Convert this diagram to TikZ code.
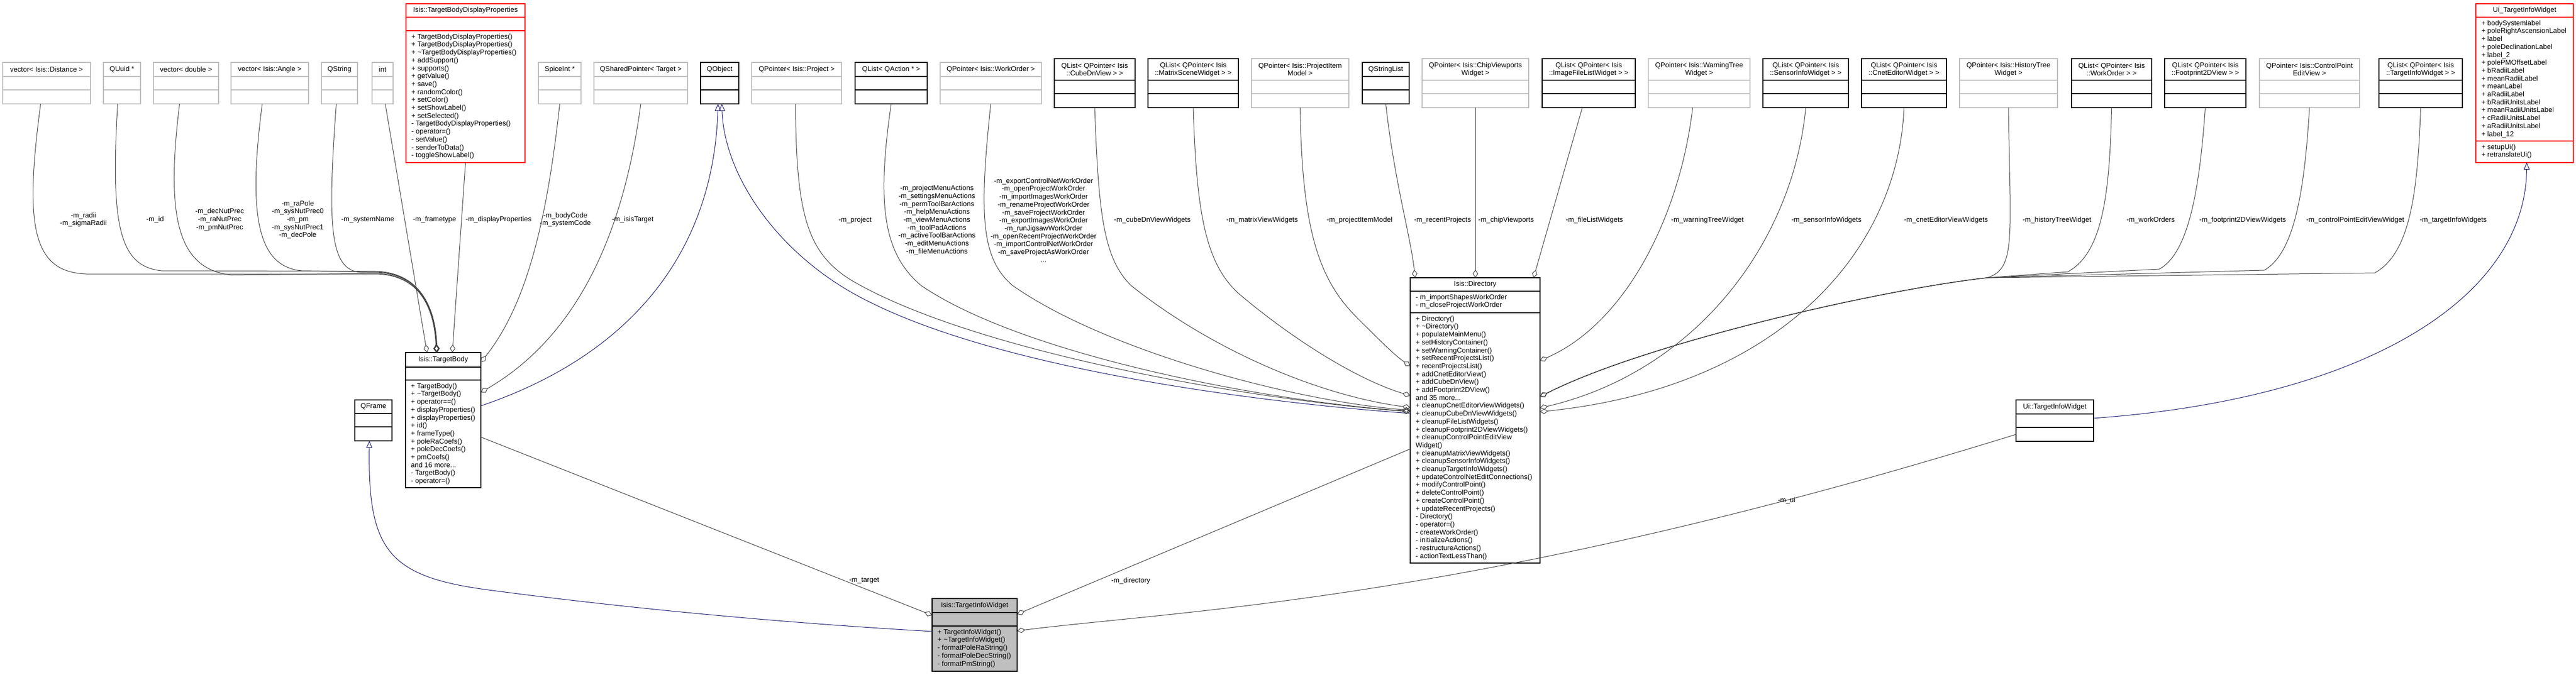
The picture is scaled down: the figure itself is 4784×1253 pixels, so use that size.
\documentclass[tikz,border=0pt]{standalone}
\usepackage{fontspec}
\setmainfont{Liberation Sans}
\usetikzlibrary{arrows.meta,calc}
\definecolor{gborder}{HTML}{BFBFBF}
\definecolor{edgec}{HTML}{404040}
\definecolor{inhc}{HTML}{191970}
\definecolor{mainfill}{HTML}{BFBFBF}
\tikzset{
 txt/.style={font=\fontsize{13}{14.7}\selectfont, inner sep=0pt, align=center},
 lst/.style={font=\fontsize{13}{14.7}\selectfont, inner sep=0pt, align=left, anchor=north west},
 elabel/.style={font=\fontsize{13}{14.7}\selectfont, inner sep=0pt, align=center, text=black},
 graybox/.style={draw=gborder, line width=1.2pt},
 blackbox/.style={draw=black, line width=1.2pt},
 redbox/.style={draw=red, line width=1.2pt},
 mainbox/.style={draw=black, fill=mainfill, line width=1.2pt},
 uses/.style={draw=edgec, line width=1pt, -{Diamond[open,length=15pt,width=10pt]}},
 inherit/.style={draw=inhc, line width=1pt, {Triangle[open,length=13pt,width=11pt]}-},
}
\newcommand\umlbox[9]{%
  \node[#2, inner sep=0pt, outer sep=0pt, minimum width={#5-#3}, minimum height={#6-#4}, anchor=north west] (#1) at (#3,#4) {};
  \draw[#2] (#3,#7) -- (#5,#7) (#3,#8) -- (#5,#8);
  \node[txt] (#1-h) at ({(#3+#5)/2},{(#4+#7)/2}) {#9};
}
\newcommand\lstat[4]{\node[lst] (#1) at (#2,#3) {\rule{0pt}{12pt}#4};}
\newcommand\elab[4]{\node[elabel] (#1) at (#2,#3) {#4};}
\begin{document}
\begin{tikzpicture}[x=1pt,y=-1pt]
\useasboundingbox (0,0) rectangle (4784,1253);
\fill[white] (0,0) rectangle (4784,1253);

% ---------- top row ----------
\umlbox{distance}{graybox}{5}{116}{168}{193}{142}{167}{vector< Isis::Distance >}
\umlbox{quuid}{graybox}{192}{116}{261}{193}{142}{167}{QUuid *}
\umlbox{vdouble}{graybox}{285}{116}{406}{193}{142}{167}{vector< double >}
\umlbox{vangle}{graybox}{429}{116}{573}{193}{142}{167}{vector< Isis::Angle >}
\umlbox{qstring}{graybox}{597}{116}{664}{193}{142}{167}{QString}
\umlbox{int}{graybox}{691}{116}{730}{193}{142}{167}{int}
\umlbox{tbdp}{redbox}{754}{7}{975}{302}{32}{57}{Isis::TargetBodyDisplayProperties}
\lstat{tbdpm}{764}{60}{+ TargetBodyDisplayProperties()\\+ TargetBodyDisplayProperties()\\+ \textasciitilde{}TargetBodyDisplayProperties()\\+ addSupport()\\+ supports()\\+ getValue()\\+ save()\\+ randomColor()\\+ setColor()\\+ setShowLabel()\\+ setSelected()\\- TargetBodyDisplayProperties()\\- operator=()\\- setValue()\\- senderToData()\\- toggleShowLabel()}
\umlbox{spiceint}{graybox}{1000}{116}{1079}{193}{142}{167}{SpiceInt *}
\umlbox{qshared}{graybox}{1103}{116}{1277}{193}{142}{167}{QSharedPointer< Target >}
\umlbox{qobject}{blackbox}{1301}{116}{1372}{193}{142}{167}{QObject}
\umlbox{qproject}{graybox}{1396}{116}{1563}{193}{142}{167}{QPointer< Isis::Project >}
\umlbox{qaction}{blackbox}{1588}{116}{1722}{193}{142}{167}{QList< QAction * >}
\umlbox{qworkorder}{graybox}{1746}{116}{1934}{193}{142}{167}{QPointer< Isis::WorkOrder >}
\umlbox{cubedn}{blackbox}{1958}{109}{2108}{200}{149}{174}{QList< QPointer< Isis\\::CubeDnView > >}
\umlbox{matrix}{blackbox}{2132}{109}{2300}{200}{149}{174}{QList< QPointer< Isis\\::MatrixSceneWidget > >}
\umlbox{projitem}{graybox}{2324}{109}{2505}{200}{149}{174}{QPointer< Isis::ProjectItem\\Model >}
\umlbox{qstringlist}{blackbox}{2530}{116}{2617}{193}{142}{167}{QStringList}
\umlbox{chipview}{graybox}{2641}{109}{2839}{200}{149}{174}{QPointer< Isis::ChipViewports\\Widget >}
\umlbox{imagefile}{blackbox}{2864}{109}{3037}{200}{149}{174}{QList< QPointer< Isis\\::ImageFileListWidget > >}
\umlbox{warning}{graybox}{3061}{109}{3250}{200}{149}{174}{QPointer< Isis::WarningTree\\Widget >}
\umlbox{sensor}{blackbox}{3274}{109}{3433}{200}{149}{174}{QList< QPointer< Isis\\::SensorInfoWidget > >}
\umlbox{cnet}{blackbox}{3457}{109}{3615}{200}{149}{174}{QList< QPointer< Isis\\::CnetEditorWidget > >}
\umlbox{history}{graybox}{3639}{109}{3821}{200}{149}{174}{QPointer< Isis::HistoryTree\\Widget >}
\umlbox{workorders}{blackbox}{3847}{109}{3996}{200}{149}{174}{QList< QPointer< Isis\\::WorkOrder > >}
\umlbox{footprint}{blackbox}{4020}{109}{4171}{200}{149}{174}{QList< QPointer< Isis\\::Footprint2DView > >}
\umlbox{cpedit}{graybox}{4196}{109}{4382}{200}{149}{174}{QPointer< Isis::ControlPoint\\EditView >}
\umlbox{tiwlist}{blackbox}{4418}{109}{4573}{200}{149}{174}{QList< QPointer< Isis\\::TargetInfoWidget > >}
\umlbox{uitiw}{redbox}{4598}{7}{4779}{302}{32}{262}{Ui\_TargetInfoWidget}
\lstat{uitiwa}{4608}{35}{+ bodySystemlabel\\+ poleRightAscensionLabel\\+ label\\+ poleDeclinationLabel\\+ label\_2\\+ polePMOffsetLabel\\+ bRadiiLabel\\+ meanRadiiLabel\\+ meanLabel\\+ aRadiiLabel\\+ bRadiiUnitsLabel\\+ meanRadiiUnitsLabel\\+ cRadiiUnitsLabel\\+ aRadiiUnitsLabel\\+ label\_12}
\lstat{uitiwm}{4608}{265}{+ setupUi()\\+ retranslateUi()}

% ---------- middle row ----------
\umlbox{targetbody}{blackbox}{753}{655}{893}{906}{682}{706}{Isis::TargetBody}
\lstat{tbm}{763}{709}{+ TargetBody()\\+ \textasciitilde{}TargetBody()\\+ operator==()\\+ displayProperties()\\+ displayProperties()\\+ id()\\+ frameType()\\+ poleRaCoefs()\\+ poleDecCoefs()\\+ pmCoefs()\\and 16 more...\\- TargetBody()\\- operator=()}
\umlbox{qframe}{blackbox}{659}{743}{728}{819}{768}{793}{QFrame}
\umlbox{directory}{blackbox}{2619}{516}{2860}{1046}{541}{581}{Isis::Directory}
\lstat{dira}{2629}{544}{- m\_importShapesWorkOrder\\- m\_closeProjectWorkOrder}
\lstat{dirm}{2629}{584}{+ Directory()\\+ \textasciitilde{}Directory()\\+ populateMainMenu()\\+ setHistoryContainer()\\+ setWarningContainer()\\+ setRecentProjectsList()\\+ recentProjectsList()\\+ addCnetEditorView()\\+ addCubeDnView()\\+ addFootprint2DView()\\and 35 more...\\+ cleanupCnetEditorViewWidgets()\\+ cleanupCubeDnViewWidgets()\\+ cleanupFileListWidgets()\\+ cleanupFootprint2DViewWidgets()\\+ cleanupControlPointEditView\\Widget()\\+ cleanupMatrixViewWidgets()\\+ cleanupSensorInfoWidgets()\\+ cleanupTargetInfoWidgets()\\+ updateControlNetEditConnections()\\+ modifyControlPoint()\\+ deleteControlPoint()\\+ createControlPoint()\\+ updateRecentProjects()\\- Directory()\\- operator=()\\- createWorkOrder()\\- initializeActions()\\- restructureActions()\\- actionTextLessThan()}
\umlbox{uitiw2}{blackbox}{3744}{743}{3888}{820}{769}{794}{Ui::TargetInfoWidget}

% ---------- bottom ----------
\umlbox{tiw}{mainbox}{1731}{1112}{1889}{1247}{1138}{1163}{Isis::TargetInfoWidget}
\lstat{tiwm}{1741}{1166}{+ TargetInfoWidget()\\+ \textasciitilde{}TargetInfoWidget()\\- formatPoleRaString()\\- formatPoleDecString()\\- formatPmString()}

% ---------- edges to TargetBody ----------
\draw[uses] ($(distance.south)+(-11,0)$) .. controls (45,420) and (60,505) .. (160,509) -- (700,509) .. controls (785,512) and (808,580) .. ($(targetbody.north west)+(58,0)$);
\draw[uses] ($(quuid.south)+(-8,0)$) .. controls (205,420) and (222,495) .. (300,503) -- (700,504) .. controls (786,508) and (809,580) .. ($(targetbody.north west)+(58,0)$);
\draw[uses] ($(vdouble.south)+(-12,0)$) .. controls (308,400) and (328,500) .. (430,511) -- (700,508) .. controls (784,511) and (807,580) .. ($(targetbody.north west)+(57,0)$);
\draw[uses] ($(vangle.south)+(-14,0)$) .. controls (460,400) and (478,495) .. (560,503) -- (700,505) .. controls (786,509) and (809,580) .. ($(targetbody.north west)+(59,0)$);
\draw[uses] ($(qstring.south)+(-6,0)$) .. controls (608,420) and (612,502) .. (670,506) -- (700,506) .. controls (785,510) and (808,580) .. ($(targetbody.north west)+(58,0)$);
\draw[uses] ($(int.south)+(5,0)$) -- ($(targetbody.north west)+(40,0)$);
\draw[uses] (tbdp.south) -- ($(targetbody.north west)+(87,0)$);
\draw[uses] (spiceint.south) .. controls (1015,420) and (975,570) .. ($(targetbody.north east)+(0,18)$);
\draw[uses] (qshared.south) .. controls (1160,420) and (1080,620) .. ($(targetbody.north east)+(0,74)$);
\draw[inherit] ($(qobject.south)+(-3,0)$) .. controls (1325,470) and (1170,660) .. ($(targetbody.north east)+(0,99)$);

\elab{lradii}{155}{408}{-m\_radii\\-m\_sigmaRadii}
\elab{lid}{288}{408}{-m\_id}
\elab{lnut}{408}{408}{-m\_decNutPrec\\-m\_raNutPrec\\-m\_pmNutPrec}
\elab{lpole}{553}{408}{-m\_raPole\\-m\_sysNutPrec0\\-m\_pm\\-m\_sysNutPrec1\\-m\_decPole}
\elab{lsys}{683}{408}{-m\_systemName}
\elab{lframe}{807}{408}{-m\_frametype}
\elab{ldisp}{926}{408}{-m\_displayProperties}
\elab{lcode}{1050}{408}{-m\_bodyCode\\-m\_systemCode}
\elab{lisis}{1175}{408}{-m\_isisTarget}

% ---------- edges to Directory (left / top) ----------
\draw[inherit] ($(qobject.south)+(4,0)$) .. controls (1345,330) and (1450,480) .. (1613,560) .. controls (1850,680) and (2300,745) .. ($(directory.north west)+(0,252)$);
\draw[uses] ($(qproject.south)+(-2,0)$) .. controls (1478,400) and (1500,470) .. (1580,520) .. controls (1800,650) and (2300,740) .. ($(directory.north west)+(0,249)$);
\draw[uses] (qaction.south) .. controls (1628,380) and (1640,470) .. (1710,530) .. controls (1900,660) and (2350,745) .. ($(directory.north west)+(0,248)$);
\draw[uses] (qworkorder.south) .. controls (1818,400) and (1822,480) .. (1880,530) .. controls (2050,650) and (2400,745) .. ($(directory.north west)+(0,246)$);
\draw[uses] (cubedn.south) .. controls (2040,400) and (2050,480) .. (2100,530) .. controls (2250,650) and (2450,735) .. ($(directory.north west)+(0,241)$);
\draw[uses] (matrix.south) .. controls (2222,400) and (2240,490) .. (2300,545) .. controls (2400,630) and (2520,705) .. ($(directory.north west)+(0,219)$);
\draw[uses] (projitem.south) .. controls (2418,430) and (2450,520) .. (2520,590) .. controls (2560,630) and (2590,660) .. ($(directory.north west)+(0,164)$);
\draw[uses] (qstringlist.south) .. controls (2590,340) and (2620,440) .. ($(directory.north west)+(9,0)$);
\draw[uses] (chipview.south) -- ($(directory.north west)+(121,0)$);
\draw[uses] ($(imagefile.south)+(-12,0)$) -- ($(directory.north west)+(229,0)$);

\elab{lproj}{1588}{409}{-m\_project}
\elab{lact}{1740}{409}{-m\_projectMenuActions\\-m\_settingsMenuActions\\-m\_permToolBarActions\\-m\_helpMenuActions\\-m\_viewMenuActions\\-m\_toolPadActions\\-m\_activeToolBarActions\\-m\_editMenuActions\\-m\_fileMenuActions}
\elab{lwo}{1938}{409}{-m\_exportControlNetWorkOrder\\-m\_openProjectWorkOrder\\-m\_importImagesWorkOrder\\-m\_renameProjectWorkOrder\\-m\_saveProjectWorkOrder\\-m\_exportImagesWorkOrder\\-m\_runJigsawWorkOrder\\-m\_openRecentProjectWorkOrder\\-m\_importControlNetWorkOrder\\-m\_saveProjectAsWorkOrder\\...}
\elab{lcube}{2140}{409}{-m\_cubeDnViewWidgets}
\elab{lmat}{2344}{409}{-m\_matrixViewWidgets}
\elab{lpim}{2525}{409}{-m\_projectItemModel}
\elab{lrec}{2679}{409}{-m\_recentProjects}
\elab{lchip}{2797}{409}{-m\_chipViewports}
\elab{lfile}{2961}{409}{-m\_fileListWidgets}

% ---------- edges to Directory (right) ----------
\draw[uses] ($(warning.south)+(-12,0)$) .. controls (3120,400) and (3020,600) .. ($(directory.north east)+(0,154)$);
\draw[uses] (sensor.south) .. controls (3330,450) and (3150,690) .. ($(directory.north east)+(0,242)$);
\draw[uses] (cnet.south) .. controls (3525,470) and (3300,720) .. ($(directory.north east)+(0,249)$);
\draw[uses] (history.south) .. controls (3733,440) and (3745,500) .. (3690,516) .. controls (3480,540) and (3050,640) .. ($(directory.north east)+(0,221)$);
\draw[uses] (workorders.south) .. controls (3918,360) and (3905,470) .. (3840,505) -- (3690,516) .. controls (3480,540) and (3050,640) .. ($(directory.north east)+(0,221)$);
\draw[uses] (footprint.south) .. controls (4085,350) and (4065,470) .. (4010,500) -- (3690,516) .. controls (3480,540) and (3050,640) .. ($(directory.north east)+(0,221)$);
\draw[uses] (cpedit.south) .. controls (4280,350) and (4262,470) .. (4205,502) -- (3690,516) .. controls (3480,540) and (3050,640) .. ($(directory.north east)+(0,221)$);
\draw[uses] (tiwlist.south) .. controls (4490,350) and (4478,470) .. (4410,507) -- (3690,516) .. controls (3480,540) and (3050,640) .. ($(directory.north east)+(0,221)$);

\elab{lwarn}{3171}{409}{-m\_warningTreeWidget}
\elab{lsens}{3392}{409}{-m\_sensorInfoWidgets}
\elab{lcnet}{3614}{409}{-m\_cnetEditorViewWidgets}
\elab{lhist}{3820}{409}{-m\_historyTreeWidget}
\elab{lwos}{3994}{409}{-m\_workOrders}
\elab{lfoot}{4165}{409}{-m\_footprint2DViewWidgets}
\elab{lcpe}{4374}{409}{-m\_controlPointEditViewWidget}
\elab{ltiw}{4556}{409}{-m\_targetInfoWidgets}

% ---------- Ui inheritance ----------
\draw[inherit] ($(uitiw.south)+(4,0)$) .. controls (4690,550) and (4400,740) .. ($(uitiw2.north east)+(0,34)$);

% ---------- edges to TargetInfoWidget ----------
\draw[inherit] ($(qframe.south)+(-7.5,0)$) .. controls (683,1020) and (720,1070) .. (900,1095) .. controls (1200,1135) and (1500,1160) .. ($(tiw.north west)+(0,61)$);
\draw[uses] ($(targetbody.north east)+(0,157)$) -- ($(tiw.north west)+(0,31)$);
\draw[uses] ($(directory.north west)+(0,318)$) -- ($(tiw.north east)+(0,29)$);
\draw[uses] ($(uitiw2.north west)+(0,64)$) .. controls (2744,1117) and (2198,1133) .. ($(tiw.north east)+(0,60)$);

\elab{ltarget}{1605}{1079}{-m\_target}
\elab{ldir}{2100}{1079}{-m\_directory}
\elab{lui}{3318}{930}{-m\_ui}
\end{tikzpicture}
\end{document}
